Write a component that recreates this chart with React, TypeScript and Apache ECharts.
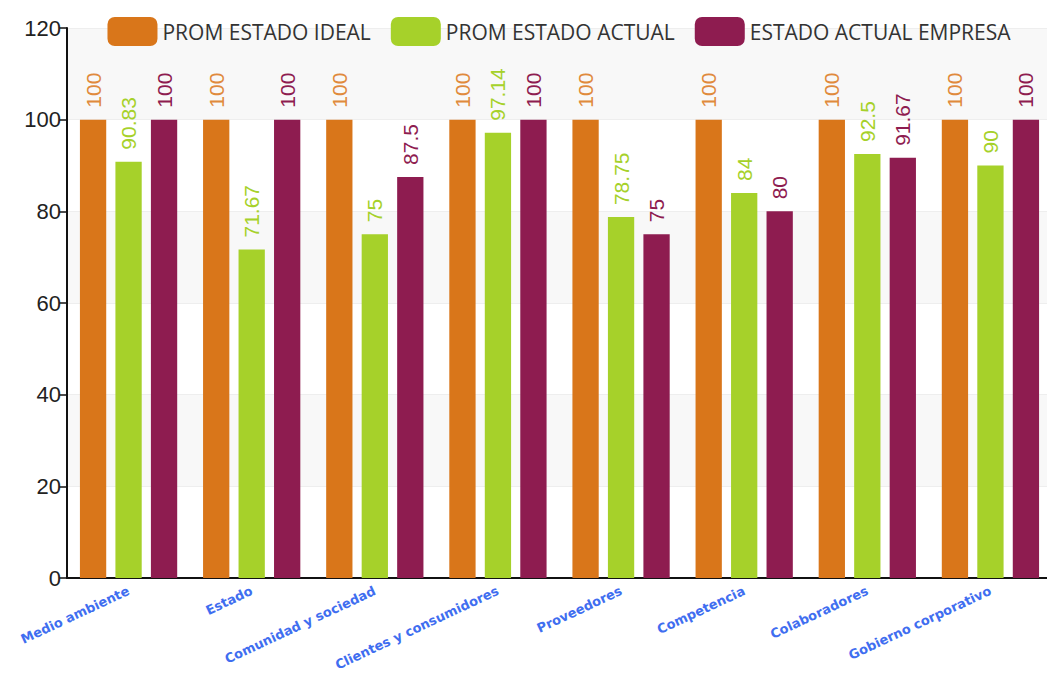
import React, { useEffect, useRef } from "react";
import * as echarts from "echarts";

const categories = [
  "Medio ambiente",
  "Estado",
  "Comunidad y sociedad",
  "Clientes y consumidores",
  "Proveedores",
  "Competencia",
  "Colaboradores",
  "Gobierno corporativo",
];
const seriesNames = ["PROM ESTADO IDEAL", "PROM ESTADO ACTUAL", "ESTADO ACTUAL EMPRESA"];
const promIdeal = [100, 100, 100, 100, 100, 100, 100, 100];
const promActual = [90.83, 71.67, 75, 97.14, 78.75, 84, 92.5, 90];
const actualEmpresa = [100, 100, 87.5, 100, 75, 80, 91.67, 100];
const colors = ["#D9761A", "#A6D12A", "#8E1C50"];
const labelColors = ["#E08A3C", "#A6D12A", "#8E1C50"];

export default function App() {
  const ref = useRef<HTMLDivElement>(null);
  useEffect(() => {
    if (!ref.current) return;
    const chart = echarts.init(ref.current, undefined, { renderer: "svg" });
    const values = [promIdeal, promActual, actualEmpresa];
    chart.setOption({
      animation: false,
      color: colors,
      legend: {
        top: 12,
        left: "center",
        itemWidth: 50,
        itemHeight: 29,
        itemGap: 20,
        textStyle: { fontFamily: "Open Sans", fontSize: 21, color: "#333" },
        data: seriesNames,
      },
      grid: { left: 67, right: 66, top: 28, bottom: 100, containLabel: false },
      xAxis: {
        type: "category",
        data: categories,
        axisLine: { lineStyle: { color: "#111", width: 2 } },
        axisTick: { length: 6, lineStyle: { color: "#111", width: 2 } },
        axisLabel: {
          interval: 0,
          rotate: 25,
          margin: 12,
          color: "#3F6EF0",
          fontFamily: "DejaVu Sans",
          fontWeight: "bold",
          fontSize: 13,
        },
      },
      yAxis: {
        type: "value",
        min: 0,
        max: 120,
        interval: 20,
        axisLine: { show: true, lineStyle: { color: "#111", width: 2 } },
        axisTick: { show: true, length: 8, lineStyle: { color: "#111", width: 1.5 } },
        axisLabel: { fontSize: 22, color: "#222", fontFamily: "Liberation Sans", margin: 6 },
        splitLine: { show: true, lineStyle: { color: "#eeeeee" } },
        splitArea: { show: true, areaStyle: { color: ["rgba(255,255,255,0)", "rgba(238,238,238,0.4)"] } },
      },
      series: seriesNames.map((name, i) => ({
        name,
        type: "bar",
        data: values[i],
        barGap: "35%",
        barCategoryGap: "21%",
        itemStyle: { color: colors[i] },
        label: {
          show: true,
          position: "top",
          rotate: 90,
          align: "left",
          verticalAlign: "middle",
          distance: 12,
          color: labelColors[i],
          fontSize: 21,
          fontFamily: "Liberation Sans",
        },
      })),
    });
    return () => chart.dispose();
  }, []);
  return (
    <div
      ref={ref}
      style={{ position: "fixed", left: 0, top: 0, width: 1118, height: 678, background: "#fff" }}
    />
  );
}
